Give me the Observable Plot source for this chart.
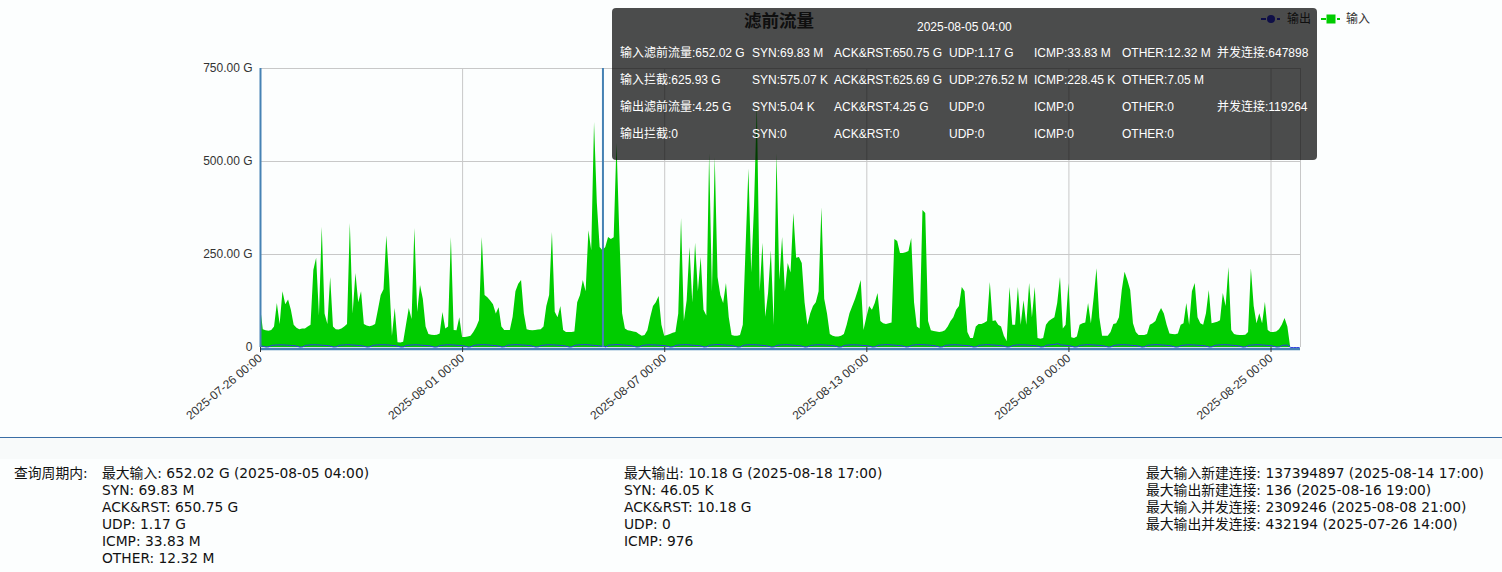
<!DOCTYPE html>
<html><head><meta charset="utf-8">
<script src="https://cdn.jsdelivr.net/npm/d3@7"></script>
<script src="https://cdn.jsdelivr.net/npm/@observablehq/plot@0.6"></script>
<style>
html,body{margin:0;padding:0;background:#fcfefe;}
body{width:1502px;height:572px;position:relative;overflow:hidden;font-family:"Liberation Sans",Arial,"Noto Sans CJK SC",sans-serif;}
#chart{position:absolute;left:0;top:0;}
#title{position:absolute;left:744px;top:9px;font-size:17.5px;font-weight:bold;color:#333;line-height:24px;white-space:nowrap;}
#legend{position:absolute;top:11px;left:1260px;height:16px;font-size:12px;color:#333;}
#legend span{position:absolute;top:0;line-height:16px;white-space:nowrap;}
#legend svg{position:absolute;top:0;}
#tip{position:absolute;left:612px;top:8px;width:705px;height:152px;background:rgba(0,0,0,0.7);border-radius:4px;color:#fff;font-size:12px;z-index:5;}
#tip span{position:absolute;line-height:14px;white-space:nowrap;}
.sep{position:absolute;left:0;top:437px;width:1502px;height:1px;background:#3a6ea5;}
.band{position:absolute;left:0;top:438px;width:1502px;height:21px;background:#f8fafa;}
.stats{position:absolute;top:465px;font-size:13.8px;line-height:17px;color:#111;font-family:"DejaVu Sans","Noto Sans CJK SC",sans-serif;white-space:nowrap;}
</style>
</head><body>
<div id="chart"></div>
<div id="title"></div>
<div id="legend"></div>
<div id="tip"></div>
<div class="sep"></div><div class="band"></div>
<div id="stats"></div>
<script>
// ---- data, 2-hour steps from 2025-07-26 00:00 ----
const inputDays = [
 [110, 48, 45, 44, 46, 55, 118, 62, 150, 115, 128, 100],
 [60, 52, 48, 50, 50, 55, 60, 207, 240, 85, 323, 90],
 [62, 188, 55, 48, 47, 50, 55, 62, 333, 90, 199, 120],
 [150, 62, 58, 56, 58, 62, 100, 140, 155, 300, 185, 30],
 [105, 13, 12, 14, 60, 105, 75, 320, 95, 167, 130, 55],
 [35, 33, 32, 33, 36, 94, 50, 55, 296, 46, 45, 80],
 [27, 27, 28, 30, 40, 54, 72, 296, 140, 134, 125, 115],
 [90, 107, 55, 46, 46, 46, 81, 150, 170, 180, 90, 48],
 [46, 45, 46, 47, 48, 55, 110, 140, 309, 95, 80, 110],
 [46, 40, 40, 40, 42, 120, 140, 180, 150, 314, 260, 605],
 [387, 269, 260, 269, 296, 290, 295, 549, 306, 91, 50, 45],
 [44, 42, 40, 35, 30, 32, 45, 80, 110, 120, 137, 60],
 [30, 32, 35, 38, 40, 90, 347, 70, 126, 269, 120, 280],
 [150, 242, 100, 85, 521, 150, 511, 188, 140, 118, 172, 80],
 [32, 30, 30, 32, 60, 270, 480, 200, 380, 652, 150, 280],
 [81, 145, 260, 60, 521, 180, 296, 150, 226, 200, 360, 240],
 [242, 226, 120, 60, 90, 110, 120, 150, 376, 130, 90, 35],
 [30, 28, 28, 30, 35, 60, 91, 110, 130, 153, 180, 46],
 [80, 110, 100, 118, 145, 70, 64, 62, 64, 66, 290, 285],
 [253, 253, 255, 258, 293, 120, 55, 50, 368, 360, 70, 45],
 [43, 42, 40, 42, 45, 55, 70, 80, 100, 110, 161, 150],
 [40, 24, 24, 55, 62, 62, 65, 70, 175, 70, 72, 60],
 [55, 30, 16, 161, 60, 60, 161, 60, 126, 60, 172, 80],
 [161, 24, 22, 24, 60, 70, 75, 80, 118, 188, 50, 60],
 [172, 26, 24, 28, 60, 64, 66, 118, 64, 134, 212, 80],
 [30, 30, 30, 40, 62, 64, 80, 153, 202, 180, 153, 64],
 [40, 32, 32, 32, 35, 60, 64, 70, 90, 105, 90, 60],
 [36, 35, 34, 36, 60, 64, 118, 60, 150, 172, 80, 64],
 [60, 91, 153, 64, 66, 68, 72, 145, 110, 215, 46, 35],
 [33, 32, 32, 33, 40, 212, 110, 64, 91, 64, 121, 46],
 [40, 40, 42, 48, 60, 78, 55, 0, 0, 0, 0]
];
const outputDays = [
 [4.6,3.2,1.1,1.9,5.8,6.3,6.8,7.0,6.9,6.5,6.0,5.4],
 [4.9,3.5,0.9,1.6,5.6,6.4,7.1,7.2,7.0,6.7,6.2,5.6],
 [5.1,3.4,1.2,1.8,5.7,6.6,6.9,7.4,7.1,6.6,6.1,5.5],
 [4.8,3.1,1.0,2.0,5.9,6.5,7.0,7.3,7.2,6.9,6.3,5.7],
 [5.0,3.3,1.1,1.7,5.5,6.2,6.8,7.1,7.0,6.4,5.9,5.3],
 [4.7,3.0,0.8,1.6,5.6,6.3,6.9,7.2,7.1,6.6,6.0,5.4],
 [4.9,3.4,1.0,1.9,5.8,6.6,7.1,7.5,7.3,6.8,6.2,5.6],
 [5.0,3.6,1.2,2.1,6.0,6.7,7.2,7.4,7.2,6.9,6.4,5.8],
 [5.2,3.5,1.1,1.8,5.7,6.4,7.0,7.3,7.1,6.7,6.1,5.5],
 [4.8,3.3,1.0,1.7,5.9,6.8,7.4,7.6,7.5,7.0,6.4,5.7],
 [5.1,3.6,4.25,1.4,6.1,6.9,7.3,7.7,7.4,6.9,6.3,5.6],
 [4.9,3.2,1.0,1.8,5.6,6.5,7.0,7.2,7.0,6.6,6.0,5.5],
 [5.0,3.4,1.1,1.9,5.8,6.7,7.2,7.5,7.3,6.8,6.2,5.6],
 [5.2,3.7,1.2,2.0,6.0,6.9,7.4,7.8,7.5,7.0,6.4,5.8],
 [5.0,3.5,1.0,1.8,5.9,6.8,7.3,7.6,7.4,6.9,6.3,5.7],
 [4.9,3.3,1.1,1.7,5.7,6.6,7.1,7.4,7.2,6.8,6.2,5.6],
 [5.1,3.4,1.0,1.9,5.8,6.5,7.0,7.3,7.1,6.7,6.1,5.5],
 [4.8,3.2,0.9,1.6,5.6,6.4,6.9,7.2,7.0,6.6,6.0,5.4],
 [5.0,3.5,1.1,1.8,5.9,6.7,7.2,7.6,7.3,6.9,6.3,5.6],
 [5.2,3.6,1.2,2.0,6.1,6.9,7.4,7.7,7.5,7.0,6.4,5.8],
 [4.9,3.3,1.0,1.7,5.7,6.5,7.0,7.3,7.1,6.7,6.1,5.5],
 [5.0,3.4,1.1,1.8,5.8,6.6,7.2,7.5,7.2,6.8,6.2,5.6],
 [4.8,3.2,0.9,1.7,5.6,6.4,7.0,7.2,7.0,6.6,6.0,5.4],
 [5.1,3.6,1.2,2.0,6.0,6.9,7.6,8.4,10.18,7.2,6.5,5.8],
 [5.0,3.4,1.0,1.8,5.9,6.7,7.2,7.5,7.3,6.8,6.2,5.6],
 [4.9,3.3,1.1,1.7,5.7,6.5,7.1,7.4,7.2,6.7,6.1,5.5],
 [5.1,3.5,1.0,1.9,5.8,6.6,7.2,7.5,7.3,6.9,6.3,5.7],
 [4.8,3.2,0.9,1.6,5.6,6.4,6.9,7.2,7.0,6.6,6.0,5.4],
 [5.0,3.4,1.1,1.8,5.8,6.6,7.1,7.4,7.2,6.8,6.2,5.6],
 [4.9,3.3,1.0,1.7,5.7,6.5,7.0,7.3,7.1,6.7,6.1,5.5],
 [5.0,3.3,1.0,1.8,5.7,6.3,6.0,0,0,0,0]
];
const xTickLabels = ["2025-07-26 00:00","2025-08-01 00:00","2025-08-07 00:00","2025-08-13 00:00","2025-08-19 00:00","2025-08-25 00:00"];
const yTicks = [0, 250, 500, 750];
const seriesNames = ["输出", "输入"];
const seriesColors = ["#3333ee", "#00cc00"];
const chartTitle = "滤前流量";
const tipTime = "2025-08-05 04:00";
const tipRows = [
 ["输入滤前流量:652.02 G","SYN:69.83 M","ACK&RST:650.75 G","UDP:1.17 G","ICMP:33.83 M","OTHER:12.32 M","并发连接:647898"],
 ["输入拦截:625.93 G","SYN:575.07 K","ACK&RST:625.69 G","UDP:276.52 M","ICMP:228.45 K","OTHER:7.05 M",""],
 ["输出滤前流量:4.25 G","SYN:5.04 K","ACK&RST:4.25 G","UDP:0","ICMP:0","OTHER:0","并发连接:119264"],
 ["输出拦截:0","SYN:0","ACK&RST:0","UDP:0","ICMP:0","OTHER:0",""]
];
const statsLabel = "查询周期内:";
const statsIn = ["最大输入: 652.02 G (2025-08-05 04:00)","SYN: 69.83 M","ACK&RST: 650.75 G","UDP: 1.17 G","ICMP: 33.83 M","OTHER: 12.32 M"];
const statsOut = ["最大输出: 10.18 G (2025-08-18 17:00)","SYN: 46.05 K","ACK&RST: 10.18 G","UDP: 0","ICMP: 976"];
const statsConn = ["最大输入新建连接: 137394897 (2025-08-14 17:00)","最大输出新建连接: 136 (2025-08-16 19:00)","最大输入并发连接: 2309246 (2025-08-08 21:00)","最大输出并发连接: 432194 (2025-07-26 14:00)"];

// ---- build ----
const parse = s => new Date(s.replace(" ", "T") + ":00Z");
const t0 = parse(xTickLabels[0]).getTime();
const HOUR = 3600e3;
const inFlat = inputDays.flat(), outFlat = outputDays.flat();
const rows = inFlat.map((v, i) => ({t: new Date(t0 + i * 2 * HOUR), input: v, output: outFlat[i]}));
const xEnd = parse("2025-08-25 21:00");
const xTicks = xTickLabels.map(parse);
const cross = parse(tipTime);
const fmt = d3.utcFormat("%Y-%m-%d %H:%M");

const chart = Plot.plot({
  width: 1502, height: 437,
  marginLeft: 260, marginRight: 202, marginTop: 68, marginBottom: 90,
  style: {background: "transparent", fontFamily: "'Liberation Sans', Arial, sans-serif", fontSize: "12px", color: "#333", overflow: "visible"},
  x: {type: "utc", domain: [new Date(t0), xEnd]},
  y: {domain: [0, 750]},
  marks: [
    Plot.gridY(yTicks.filter(d => d > 0), {stroke: "#c8c8c8", strokeOpacity: 1}),
    Plot.gridX([...xTicks.slice(1), xEnd], {stroke: "#c8c8c8", strokeOpacity: 1}),
    Plot.areaY(rows, {x: "t", y: "input", fill: seriesColors[1]}),
    Plot.lineY(rows, {x: "t", y: "output", stroke: seriesColors[0], strokeWidth: 1}),
    Plot.ruleX([xTicks[0]], {stroke: "#4682b4", strokeWidth: 2}),
    Plot.ruleX([cross], {stroke: "#4682b4", strokeWidth: 2}),
    Plot.ruleY([0], {stroke: "#4682b4", strokeWidth: 2.5, dy: 1.5}),
    Plot.axisY({ticks: yTicks, tickFormat: d => d === 0 ? "0" : d.toFixed(2) + " G", tickSize: 0, tickPadding: 8, label: null}),
    Plot.axisX({ticks: xTicks, tickFormat: fmt, tickRotate: -40, tickSize: 5, tickPadding: 4, label: null})
  ]
});
document.getElementById("chart").appendChild(chart);

document.getElementById("title").textContent = chartTitle;

// legend
const lg = document.getElementById("legend");
lg.innerHTML =
 `<svg width="22" height="16" style="left:0"><line x1="1" x2="20" y1="8" y2="8" stroke="${seriesColors[0]}" stroke-width="2" stroke-dasharray="5,3"/><circle cx="11" cy="8" r="4" fill="${seriesColors[0]}"/></svg>` +
 `<span style="left:27px">${seriesNames[0]}</span>` +
 `<svg width="22" height="16" style="left:60px"><line x1="1" x2="20" y1="8" y2="8" stroke="${seriesColors[1]}" stroke-width="2" stroke-dasharray="5,3"/><rect x="6.5" y="3.5" width="9" height="9" fill="${seriesColors[1]}"/></svg>` +
 `<span style="left:86px">${seriesNames[1]}</span>`;

// tooltip
const tip = document.getElementById("tip");
const colX = [8, 140, 222, 337, 422, 510, 605];
const rowY = [38, 65, 92, 119];
let html = `<span style="left:305px;top:12px">${tipTime}</span>`;
tipRows.forEach((r, i) => r.forEach((c, j) => { if (c) html += `<span style="left:${colX[j]}px;top:${rowY[i]}px">${c}</span>`; }));
tip.innerHTML = html;

// stats
const st = document.getElementById("stats");
st.innerHTML =
 `<div class="stats" style="left:14px">${statsLabel}</div>` +
 `<div class="stats" style="left:102px">${statsIn.join("<br>")}</div>` +
 `<div class="stats" style="left:624px">${statsOut.join("<br>")}</div>` +
 `<div class="stats" style="left:1146px">${statsConn.join("<br>")}</div>`;
</script>
</body></html>
